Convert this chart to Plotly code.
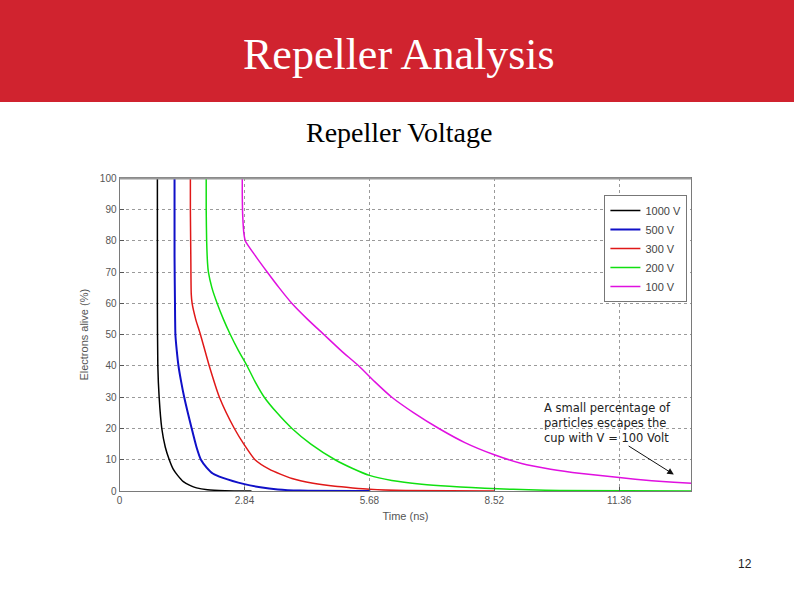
import plotly.graph_objects as go

W, H = 794, 595

series_names = ["1000 V", "500 V", "300 V", "200 V", "100 V"]
series_colors = ["#000000", "#1010C8", "#E01818", "#10E010", "#E010E0"]
series_widths = [1.5, 2, 1.5, 1.5, 1.5]

x_1000 = [0.86, 0.86, 0.87, 0.90, 0.96, 1.04, 1.13, 1.22, 1.32, 1.45, 1.60, 1.75, 2.0, 2.4, 3.0]
y_1000 = [100, 60, 40, 30, 20, 14, 10, 7, 5, 3, 1.8, 1, 0.4, 0.1, 0]

x_500 = [1.25, 1.25, 1.26, 1.27, 1.30, 1.34, 1.40, 1.47, 1.64, 1.75, 1.85, 1.98, 2.12, 2.35, 2.84, 3.2, 3.6, 4.1, 5.7]
y_500 = [100, 75, 60, 50, 45, 40, 35, 30, 20, 14, 10, 7.5, 5.6, 4.2, 2.2, 1.2, 0.5, 0.15, 0]

x_300 = [1.61, 1.61, 1.62, 1.63, 1.65, 1.73, 1.84, 2.04, 2.27, 2.61, 2.84, 3.08, 3.4, 3.92, 4.4, 4.9, 5.3, 5.68, 6.5, 8.52]
y_300 = [100, 90, 75, 63, 60, 55, 50, 40, 30, 20, 14.7, 10, 7, 4, 2.5, 1.5, 1, 0.6, 0.2, 0]

x_200 = [1.97, 1.97, 1.98, 2.0, 2.02, 2.1, 2.22, 2.36, 2.52, 2.7, 2.9, 3.08, 3.29, 3.58, 3.92, 4.35, 4.9, 5.3, 5.68, 6.19, 6.87, 7.5, 8.0, 8.6, 9.3, 10.0, 13.0]
y_200 = [100, 90, 80, 73, 70, 65, 60, 55, 50, 45, 40, 35, 30, 25, 20, 15, 10, 7.2, 5, 3.4, 2.2, 1.5, 1.1, 0.7, 0.4, 0.15, 0]

x_100 = [2.79, 2.79, 2.80, 2.83, 2.86, 3.1, 3.36, 3.63, 3.92, 4.27, 4.65, 5.03, 5.44, 5.8, 6.19, 6.69, 7.26, 7.85, 8.52, 9.14, 9.8, 10.5, 11.36, 12.1, 12.6, 13.0]
y_100 = [100, 95, 88, 82, 80, 75, 70, 65, 60, 55, 50, 45, 40, 35, 30, 25, 20, 15.5, 11.6, 8.8, 7.0, 5.6, 4.3, 3.3, 2.8, 2.5]

x_ticks = [0, 2.84, 5.68, 8.52, 11.36]
x_tick_labels = ["0", "2.84", "5.68", "8.52", "11.36"]
y_ticks = [0, 10, 20, 30, 40, 50, 60, 70, 80, 90, 100]

xs = [x_1000, x_500, x_300, x_200, x_100]
ys = [y_1000, y_500, y_300, y_200, y_100]

fig = go.Figure()
for name, c, w, x, y in zip(series_names, series_colors, series_widths, xs, ys):
    fig.add_trace(go.Scatter(x=x, y=y, mode="lines", name=name,
                             line=dict(color=c, width=w, shape="spline", smoothing=0.6)))

px0, px1 = 117, 691
py0, py1 = 176, 495

grid = dict(showgrid=True, gridcolor="#9a9a9a", griddash="dot", gridwidth=1,
            showline=True, linecolor="#7a7a7a", linewidth=1, mirror=True,
            ticks="inside", ticklen=4, tickcolor="#555", zeroline=False,
            tickfont=dict(family="Liberation Sans, Arial", size=10, color="#555"))

fig.update_layout(
    width=W, height=H, margin=dict(l=0, r=0, t=0, b=0),
    paper_bgcolor="white", plot_bgcolor="white",
    xaxis=dict(domain=[px0 / W, px1 / W], range=[0, 13], tickvals=x_ticks,
               ticktext=x_tick_labels,
               title=dict(text="Time (ns)", standoff=7,
                          font=dict(family="Liberation Sans, Arial", size=11, color="#555")),
               **grid),
    yaxis=dict(domain=[1 - py1 / H, 1 - py0 / H], range=[0, 100], tickvals=y_ticks,
               title=dict(text="Electrons alive (%)", standoff=9,
                          font=dict(family="Liberation Sans, Arial", size=11, color="#555")),
               **grid),
    legend=dict(x=687 / W, xanchor="right", y=1 - 193 / H, yanchor="top",
                bgcolor="white", bordercolor="#777", borderwidth=1,
                font=dict(family="Liberation Sans, Arial", size=11, color="#444"),
                tracegroupgap=0, itemwidth=30),
    showlegend=True,
)

# header band
fig.add_shape(type="rect", xref="paper", yref="paper", x0=-0.05, x1=1.05, y0=1 - 98 / H, y1=1.05,
              fillcolor="#D0232F", line=dict(width=0), layer="below")
# top frame thicker
fig.add_shape(type="line", xref="paper", yref="paper", x0=px0 / W, x1=px1 / W,
              y0=1 - py0 / H, y1=1 - py0 / H, line=dict(color="#999", width=2))

fig.add_annotation(text="Repeller Analysis", xref="paper", yref="paper", x=0.5, y=1 - 50 / H,
                   xanchor="center", yanchor="middle", showarrow=False,
                   font=dict(family="Liberation Serif, Times New Roman", size=44, color="white"))
fig.add_annotation(text="Repeller Voltage", xref="paper", yref="paper", x=0.5, y=1 - 129 / H,
                   xanchor="center", yanchor="middle", showarrow=False,
                   font=dict(family="Liberation Serif, Times New Roman", size=28, color="black"))
fig.add_annotation(text="12", xref="paper", yref="paper", x=745 / W, y=1 - 569 / H,
                   xanchor="center", yanchor="middle", showarrow=False,
                   font=dict(family="Liberation Sans, Arial", size=12, color="#222"))

fig.add_annotation(text="A small percentage of<br>particles escapes the<br>cup with V = 100 Volt",
                   x=9.6, y=29.6, xanchor="left", yanchor="top", align="left", showarrow=False,
                   font=dict(family="DejaVu Sans", size=11.5, color="#222"))
fig.add_annotation(text="", x=12.6, y=5.3, ax=11.54, ay=14.7, axref="x", ayref="y",
                   showarrow=True, arrowhead=2, arrowsize=1.3, arrowwidth=1, arrowcolor="#111")

fig.write_html("out.html")
